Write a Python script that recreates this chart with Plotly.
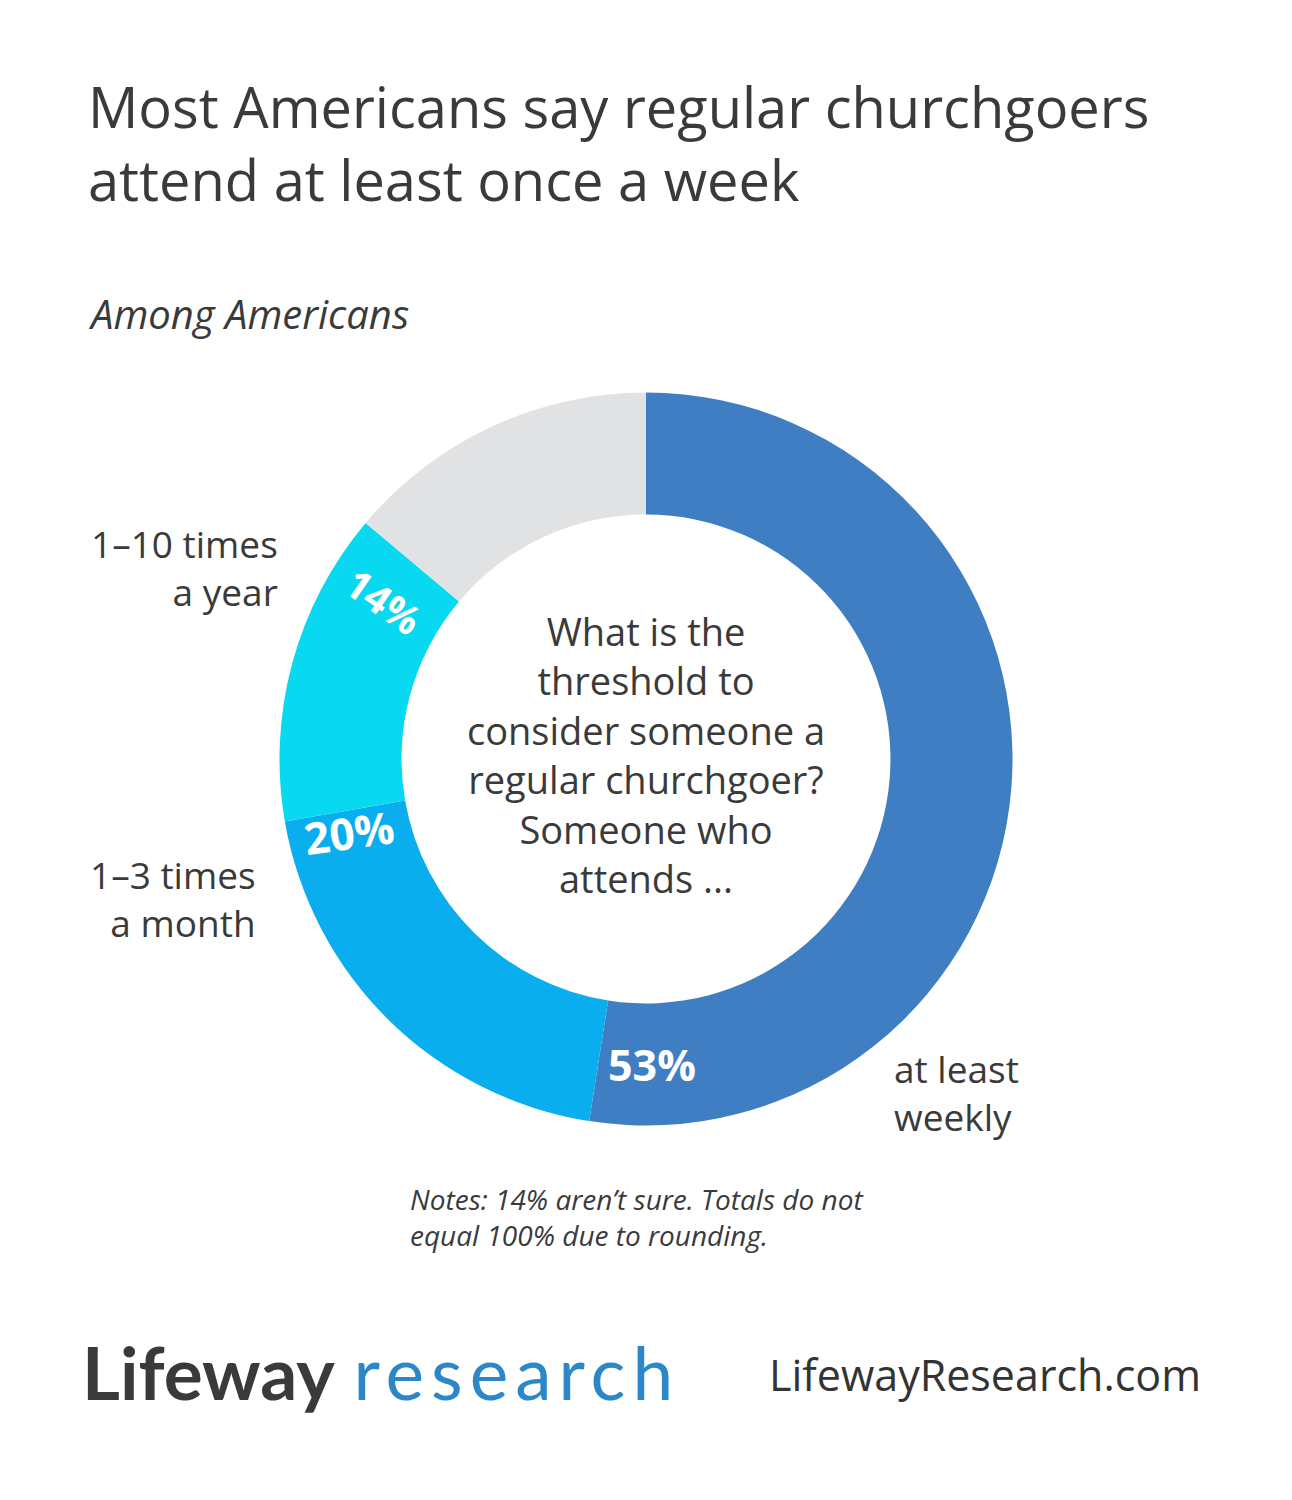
import math
import plotly.graph_objects as go

# ---- data ----
categories = ["at least weekly", "1-3 times a month", "1-10 times a year", "Not sure"]
values = [53, 20, 14, 14]
pct_labels = ["53%", "20%", "14%", ""]
side_labels = ["at least<br>weekly", "1–3 times<br>a month", "1–10 times<br>a year", ""]

title_text = "Most Americans say regular churchgoers<br>attend at least once a week"
subtitle_text = "Among Americans"
center_text = ("What is the<br>threshold to<br>consider someone a<br>"
               "regular churchgoer?<br>Someone who<br>attends ...")
notes_text = "Notes: 14% aren’t sure. Totals do not<br>equal 100% due to rounding."

# ---- style ----
colors = ["#3F7EC2", "#0AAEEF", "#08D8F0", "#E1E2E4"]
W, H = 1292, 1500
OFF = 8  # page body margin
CX, CY, R = 646, 759, 366.5
HOLE = 0.667
FONT = "Open Sans"
DARK = "#3A3A3A"

def px(x):
    return (x - OFF) / W

def py(y):
    return 1 - (y - OFF) / H

fig = go.Figure()
fig.add_trace(go.Pie(
    labels=categories, values=values, hole=HOLE, sort=False,
    direction="clockwise", rotation=0,
    marker=dict(colors=colors, line=dict(width=0)),
    textinfo="none", hoverinfo="label+value", showlegend=False,
    domain=dict(x=[px(CX - R), px(CX + R)], y=[py(CY + R), py(CY - R)]),
))

ann = []
# percentage labels along the ring, near each slice's end
total = sum(values)
offsets = [10, 4, 9, 0]
angles_txt = [0, -8, 35, 0]
sizes_txt = [43, 44, 40, 0]
mid_r = R * (1 + HOLE) / 2
cum = 0
for v, lab, off, ta, fs in zip(values, pct_labels, offsets, angles_txt, sizes_txt):
    cum += v
    if not lab:
        continue
    ang = math.radians(cum / total * 360 - off)
    x = CX + mid_r * math.sin(ang)
    y = CY - mid_r * math.cos(ang)
    ann.append(dict(x=px(x), y=py(y), xref="paper", yref="paper", text="<b>" + lab + "</b>",
                    showarrow=False, textangle=ta, xanchor="center", yanchor="middle",
                    font=dict(family=FONT, size=fs, color="white")))

# category labels
side_pos = [(892, 1092, "left"), (258, 898, "right"), (280, 568, "right")]
for (x, y, al), lab in zip(side_pos, side_labels):
    ann.append(dict(x=px(x), y=py(y), xref="paper", yref="paper", text=lab,
                    showarrow=False, xanchor=al, yanchor="middle", align=al,
                    font=dict(family=FONT, size=37, color=DARK)))

# center text
ann.append(dict(x=px(CX), y=py(754), xref="paper", yref="paper", text=center_text,
                showarrow=False, xanchor="center", yanchor="middle", align="center",
                font=dict(family=FONT, size=38, color=DARK)))

# title
ann.append(dict(x=px(86), y=py(66), xref="paper", yref="paper", text=title_text,
                showarrow=False, xanchor="left", yanchor="top", align="left",
                font=dict(family=FONT, size=56, color=DARK)))
ann.append(dict(x=px(86), y=py(313), xref="paper", yref="paper",
                text="<i>" + subtitle_text + "</i>",
                showarrow=False, xanchor="left", yanchor="middle", align="left",
                font=dict(family=FONT, size=40, color=DARK)))
# notes
ann.append(dict(x=px(408), y=py(1217), xref="paper", yref="paper",
                text="<i>" + notes_text + "</i>",
                showarrow=False, xanchor="left", yanchor="middle", align="left",
                font=dict(family=FONT, size=28, color=DARK)))
# logo and url
ann.append(dict(x=px(80), y=py(1372), xref="paper", yref="paper",
                text="<b>Lifeway</b> <span style='color:#2C87C9;letter-spacing:7px'>research</span>",
                showarrow=False, xanchor="left", yanchor="middle",
                font=dict(family="Lato", size=73, color="#3A3A3A")))
ann.append(dict(x=px(1203), y=py(1374), xref="paper", yref="paper",
                text="LifewayResearch.com",
                showarrow=False, xanchor="right", yanchor="middle",
                font=dict(family=FONT, size=43, color="#333333")))

fig.update_layout(
    width=W, height=H, margin=dict(l=0, r=0, t=0, b=0),
    paper_bgcolor="white", plot_bgcolor="white",
    annotations=ann,
)

fig.write_html("out.html")
